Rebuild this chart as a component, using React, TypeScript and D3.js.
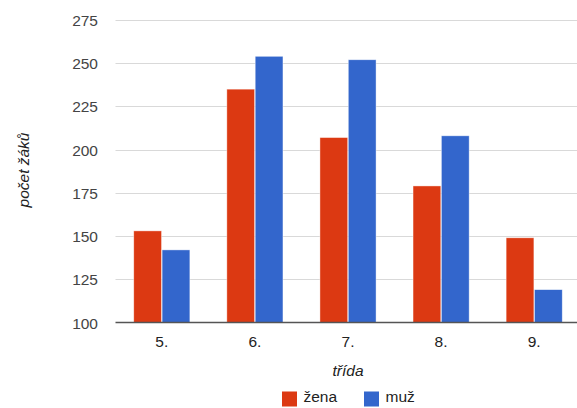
import React from "react";
import * as d3 from "d3";

const categories = ["5.", "6.", "7.", "8.", "9."];
const seriesNames = ["žena", "muž"];
const zena = [153, 235, 207, 179, 149];
const muz = [142, 254, 252, 208, 119];
const yTicks = [100, 125, 150, 175, 200, 225, 250, 275];
const colors = ["#dc3912", "#3366cc"];

export default function App() {
  const W = 577, H = 408;
  const left = 115.5, right = 580.5, top = 20, bottom = 322.5;
  const x = d3.scaleBand<string>().domain(categories).range([left, right]).paddingInner(0.385).paddingOuter(0.19);
  const x1 = d3.scaleBand<string>().domain(seriesNames).range([0, x.bandwidth()]).padding(0.02);
  const y = d3.scaleLinear().domain([100, 275]).range([bottom, top]);
  const data = [zena, muz];
  const font = "Arial, 'Liberation Sans', sans-serif";
  const fs = 15.5;
  return (
    <svg width={W} height={H} style={{ position: "absolute", left: 0, top: 0, background: "#fff" }}>
      {yTicks.map((t) => (
        <g key={t}>
          {t !== 100 && (
            <line x1={left} x2={W} y1={Math.round(y(t)) + 0.5} y2={Math.round(y(t)) + 0.5} stroke="#d9d9d9" strokeWidth={1} />
          )}
          <text x={98} y={y(t) + 6} textAnchor="end" fontFamily={font} fontSize={fs} fill="#444">{t}</text>
        </g>
      ))}
      {categories.map((c, i) => (
        <g key={c}>
          {seriesNames.map((s, j) => {
            const v = data[j][i];
            return (
              <rect key={s} x={(x(c) as number) + (x1(s) as number)} y={y(v)} width={x1.bandwidth()} height={bottom - y(v)}
                fill={colors[j]} stroke="#fff" strokeOpacity={0.6} strokeWidth={0.7} />
            );
          })}
          <text x={(x(c) as number) + x.bandwidth() / 2} y={346.5} textAnchor="middle" fontFamily={font} fontSize={fs} fill="#222">{c}</text>
        </g>
      ))}
      <line x1={left} x2={W} y1={bottom} y2={bottom} stroke="#555" strokeWidth={1.5} />
      <text x={348} y={375.5} textAnchor="middle" fontFamily={font} fontSize={fs} fontStyle="italic" fill="#222">třída</text>
      <text transform={`translate(29,170) rotate(-90)`} textAnchor="middle" fontFamily={font} fontSize={fs} fontStyle="italic" fill="#222">počet žáků</text>
      {seriesNames.map((s, j) => {
        const lx = j === 0 ? 282 : 364;
        return (
          <g key={s}>
            <rect x={lx} y={391.5} width={15} height={15} fill={colors[j]} />
            <text x={lx + 21.5} y={402} fontFamily={font} fontSize={fs} fill="#222">{s}</text>
          </g>
        );
      })}
    </svg>
  );
}
